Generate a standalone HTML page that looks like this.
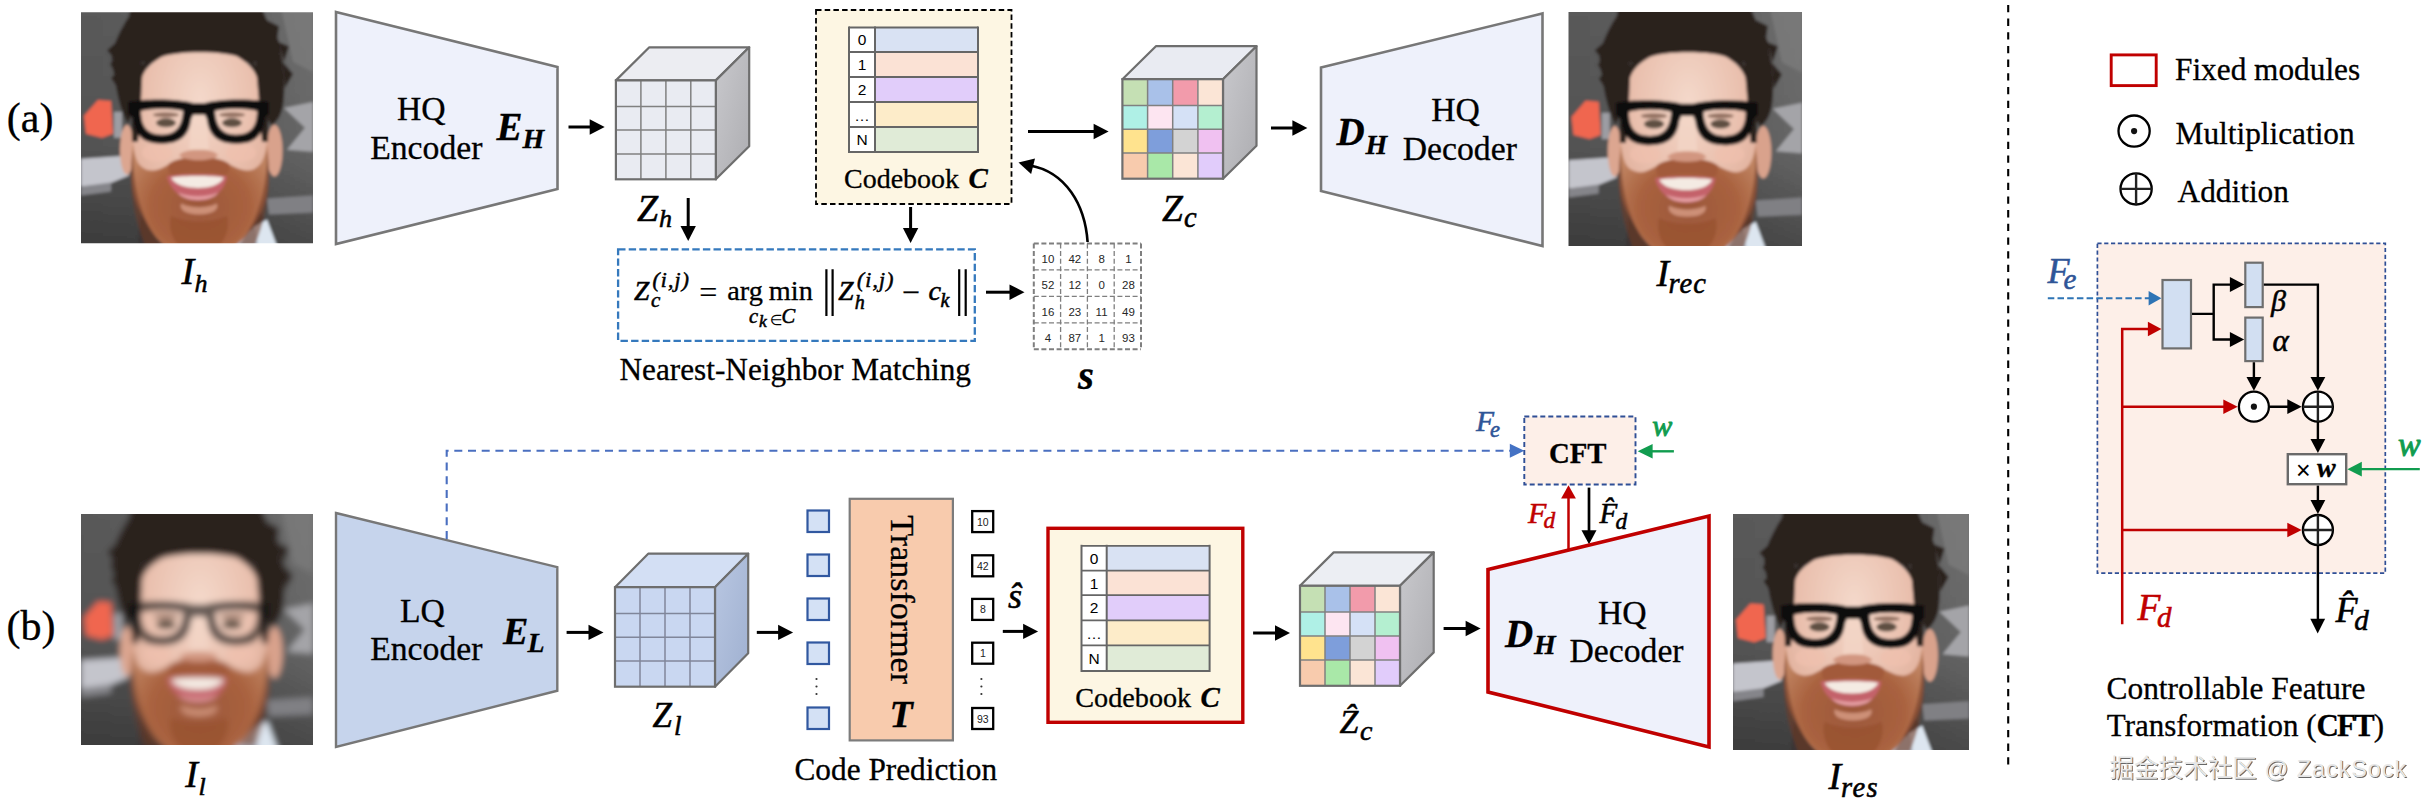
<!DOCTYPE html>
<html lang="en"><head><meta charset="utf-8"><title>CodeFormer framework</title>
<style>
html,body{margin:0;padding:0;background:#fff;}
body{width:2430px;height:804px;overflow:hidden;}
svg{display:block;}
</style></head><body>
<svg width="2430" height="804" viewBox="0 0 2430 804">
<defs>
<linearGradient id="sideG" x1="0" y1="0" x2="1" y2="1"><stop offset="0" stop-color="#c9c9cd"/><stop offset="1" stop-color="#adadb1"/></linearGradient>
<linearGradient id="sideB" x1="0" y1="0" x2="1" y2="1"><stop offset="0" stop-color="#b9c7e2"/><stop offset="1" stop-color="#9fb0d0"/></linearGradient>
<filter id="bl2" x="-10%" y="-10%" width="120%" height="120%"><feGaussianBlur stdDeviation="1.6"/></filter>
<filter id="bl4" x="-10%" y="-10%" width="120%" height="120%"><feGaussianBlur stdDeviation="4"/></filter>
<filter id="bl6" x="-10%" y="-10%" width="120%" height="120%"><feGaussianBlur stdDeviation="3.2"/></filter>
<clipPath id="fc"><rect x="0" y="0" width="232" height="232"/></clipPath>
<linearGradient id="bgG" x1="0" y1="0" x2="1" y2="0"><stop offset="0" stop-color="#595959"/><stop offset="0.6" stop-color="#5f5f5f"/><stop offset="1" stop-color="#727272"/></linearGradient>
<linearGradient id="bgD" x1="0" y1="0" x2="0" y2="1"><stop offset="0" stop-color="#000" stop-opacity="0"/><stop offset="0.55" stop-color="#000" stop-opacity="0.08"/><stop offset="1" stop-color="#000" stop-opacity="0.38"/></linearGradient>
<radialGradient id="skinG" cx="0.5" cy="0.25" r="0.8"><stop offset="0" stop-color="#f4d8ca"/><stop offset="0.5" stop-color="#e9bfad"/><stop offset="1" stop-color="#d9a28d"/></radialGradient>
<radialGradient id="beardG" cx="0.5" cy="0.55" r="0.6"><stop offset="0" stop-color="#9c573a"/><stop offset="0.6" stop-color="#a9623f"/><stop offset="1" stop-color="#c08462"/></radialGradient>
<g id="faceBase">
<rect x="-10" y="-10" width="260" height="260" fill="url(#bgG)"/>
<rect x="-10" y="-10" width="260" height="260" fill="url(#bgD)"/>
<!-- bg graphics -->
<path d="M3 104 L17 88 L30 89 L32 122 L21 126 L5 122 Z" fill="#f06650"/>
<rect x="33" y="100" width="8" height="26" fill="#9d9da3"/>
<path d="M0 147 L44 144 L48 164 L26 173 L0 175 Z" fill="#c4c5cc"/>
<path d="M0 175 L30 171 L30 180 L0 184 Z" fill="#85858a"/>
<path d="M203 96 L232 90 L232 140 L206 138 L224 116 Z" fill="#a4a4a8"/>
<path d="M200 -4 L232 -4 L232 60 L212 50 Z" fill="#7d7d7d" opacity="0.7"/>
<path d="M186 187 L232 184 L232 201 L188 203 Z" fill="#808084"/>
<!-- neck and shirt -->
<path d="M60 200 L178 196 L196 240 L56 240 Z" fill="#3a3434"/>
<path d="M172 216 L186 208 L198 240 L172 240 Z" fill="#dde6f0"/>
<path d="M154 228 L174 216 L178 240 L152 240 Z" fill="#b9c3d0"/>
<!-- ears -->
<ellipse cx="46" cy="138" rx="7" ry="25" fill="#dca690"/>
<ellipse cx="193.5" cy="139" rx="8" ry="26" fill="#d9a28c"/>
<!-- hair mass -->
<path d="M47 112 C40 100 36 84 33 62 C30 48 30 40 33 34 C38 20 44 10 48 4 L50 -6 L180 -6 L186 8 C196 22 200 32 200 40 C204 60 204 80 202 94 C200 104 196 110 190 114 L180 90 L176 50 L60 50 L56 90 Z" fill="#2b221e"/>
<path d="M26 38 L40 26 L36 50 Z M29 52 L36 44 L36 64 Z M30 66 L36 60 L38 78 Z M198 30 L208 34 L203 50 Z M202 50 L212 62 L204 76 Z M186 8 L198 14 L196 28 Z" fill="#2b221e"/>
<!-- face -->
<path d="M52 108 C50 72 62 40 118 34 C174 38 186 72 186 108 C187 140 188 160 184 184 C176 214 152 246 118 246 C86 246 62 214 54 184 C50 160 51 140 52 108 Z" fill="url(#skinG)"/>
<!-- hairline -->
<path d="M54 92 C54 60 62 36 100 28 L140 28 C170 34 180 52 182 92 C180 70 174 56 162 46 C142 38 96 38 76 46 C62 56 58 70 54 92 Z" fill="#2b221e"/>
<path d="M51 130 L50 70 L62 48 L60 90 L57 130 Z M187 130 L188 70 L174 44 L178 90 L181 130 Z" fill="#2b221e"/>
<!-- beard -->
<path d="M52 130 C54 150 58 157 70 159 C78 159 84 155 90 151 C100 144 136 144 146 151 C152 155 160 159 168 159 C178 157 184 150 186 130 C190 168 186 190 178 204 C166 228 146 248 118 248 C92 248 72 228 62 204 C52 190 48 168 52 130 Z" fill="url(#beardG)"/>
<path d="M88 152 C100 143 136 143 148 152 C150 159 146 164 142 164 C130 159 106 159 94 164 C88 164 86 159 88 152 Z" fill="#a25a3a"/>
<path d="M52 138 C52 178 60 206 80 234 L64 234 C54 208 46 178 52 138 Z M186 138 C186 178 178 206 158 234 L174 234 C184 208 192 178 186 138 Z" fill="#6f3c28" opacity="0.6"/>
<path d="M100 192 C110 197 126 197 136 192 C138 198 132 203 118 203 C104 203 98 198 100 192 Z" fill="#d59a82" opacity="0.85"/>
<path d="M90 204 C104 212 132 212 146 204 C150 220 142 240 118 244 C94 240 86 220 90 204 Z" fill="#96502f" opacity="0.7"/>
<!-- mouth -->
<path d="M86 165 C102 162 132 162 146 165 C143 180 132 189 117 189 C102 189 90 180 86 165 Z" fill="#c4626a"/>
<path d="M90 166 C104 164 130 164 143 166 C139 174 128 176.5 117 176.5 C106 176.5 94 174 90 166 Z" fill="#f4ebe3"/>
<path d="M97 181 C107 186 127 186 137 181 C132 191 102 191 97 181 Z" fill="#e59ea2"/>
<!-- nose -->
<path d="M98 144 C106 150 130 150 137 144 C134 136 102 136 98 144 Z" fill="#d29680"/>
<path d="M111 100 L125 100 L128 138 L108 138 Z" fill="#f3d5c7" opacity="0.75"/>
<!-- cheeks -->
<ellipse cx="76" cy="141" rx="15" ry="9" fill="#efc0ae" opacity="0.7"/>
<ellipse cx="160" cy="141" rx="15" ry="9" fill="#efc0ae" opacity="0.7"/>
<!-- eyes -->
<ellipse cx="85" cy="111" rx="10" ry="4.5" fill="#5f5043"/>
<ellipse cx="151" cy="111" rx="10" ry="4.5" fill="#5f5043"/>
<ellipse cx="85" cy="103" rx="13" ry="2.5" fill="#6b4a3a" opacity="0.7"/>
<ellipse cx="151" cy="103" rx="13" ry="2.5" fill="#6b4a3a" opacity="0.7"/>
</g>
<g id="glasses"><path d="M47 90 C66 86 100 87 112 91 L124 91 C136 87 168 86 188 90 L188 102 L184 106 C182 124 174 132 155 132 C137 132 128 124 126 108 L124 103 L112 103 L110 108 C108 124 99 132 81 132 C62 132 54 124 52 106 L47 102 Z M60 99 C60 115 66 123 81 123 C95 123 101 115 102 99 C90 96 72 96 60 99 Z M134 99 C135 115 141 123 155 123 C170 123 176 115 176 99 C164 96 146 96 134 99 Z" fill="#0c0b0b" fill-rule="evenodd"/></g>
<g id="face"><g transform="scale(1,0.9957)"><g clip-path="url(#fc)"><g filter="url(#bl2)"><use href="#faceBase"/><use href="#glasses"/></g></g></g></g>
<g id="face2"><g transform="scale(1.0065,1.0086)"><g clip-path="url(#fc)"><g filter="url(#bl2)"><use href="#faceBase"/><use href="#glasses"/></g></g></g></g>
<g id="face3"><g transform="scale(1,0.9957)"><g clip-path="url(#fc)"><g filter="url(#bl6)"><use href="#faceBase"/><use href="#glasses" opacity="0.6"/></g></g></g></g>
<g id="face4"><g transform="scale(1.0172,1.0172)"><g clip-path="url(#fc)"><g filter="url(#bl2)"><use href="#faceBase"/><use href="#glasses"/></g></g></g></g>

</defs>
<rect width="2430" height="804" fill="#fff"/>

<text x="6.8" y="132.3" font-size="42" font-family='"Liberation Serif", serif' fill="#000" stroke="#000" stroke-width="0.3">(a)</text>
<use href="#face" x="81" y="12.3"/>
<text x="181.5" y="283.8" font-size="38" font-family='"Liberation Serif", serif' font-style="italic" fill="#000" stroke="#000" stroke-width="0.55">I</text>
<text x="194.5" y="292" font-size="26" font-family='"Liberation Serif", serif' font-style="italic" fill="#000" stroke="#000" stroke-width="0.55">h</text>
<polygon points="336,12 557.5,67 557.5,189 336,244" fill="#eef1fb" stroke="#777" stroke-width="2.6" stroke-linejoin="miter"/>
<text x="397" y="120.3" font-size="33.7" font-family='"Liberation Serif", serif' fill="#000" stroke="#000" stroke-width="0.3">HQ</text>
<text x="370.2" y="158.5" font-size="33.7" font-family='"Liberation Serif", serif' fill="#000" stroke="#000" stroke-width="0.3">Encoder</text>
<text x="496.5" y="139.8" font-size="39" font-family='"Liberation Serif", serif' font-style="italic" font-weight="bold" fill="#000" stroke="#000" stroke-width="0.3">E</text>
<text x="522.5" y="147.7" font-size="28" font-family='"Liberation Serif", serif' font-style="italic" font-weight="bold" fill="#000" stroke="#000" stroke-width="0.3">H</text>
<line x1="568.5" y1="127.0" x2="591.7" y2="127.0" stroke="#000" stroke-width="3"/><polygon points="604.7,127.0 589.7,134.7 589.7,119.3" fill="#000"/>
<polygon points="615.9,80.4 649.3,47.300000000000004 749.1999999999999,47.300000000000004 715.8,80.4" fill="#ecedf2" stroke="#6e6e6e" stroke-width="2.2" stroke-linejoin="round"/><polygon points="715.8,80.4 749.1999999999999,47.300000000000004 749.1999999999999,146.20000000000002 715.8,179.3" fill="url(#sideG)" stroke="#6e6e6e" stroke-width="2.2" stroke-linejoin="round"/><rect x="615.9" y="80.4" width="99.9" height="98.9" fill="#e9ebf2"/><line x1="640.9" y1="80.4" x2="640.9" y2="179.3" stroke="#808080" stroke-width="1.5"/><line x1="615.9" y1="106.4" x2="715.8" y2="106.4" stroke="#808080" stroke-width="1.5"/><line x1="665.9" y1="80.4" x2="665.9" y2="179.3" stroke="#808080" stroke-width="1.5"/><line x1="615.9" y1="130.1" x2="715.8" y2="130.1" stroke="#808080" stroke-width="1.5"/><line x1="690.8" y1="80.4" x2="690.8" y2="179.3" stroke="#808080" stroke-width="1.5"/><line x1="615.9" y1="153.9" x2="715.8" y2="153.9" stroke="#808080" stroke-width="1.5"/><rect x="615.9" y="80.4" width="99.9" height="98.9" fill="none" stroke="#6e6e6e" stroke-width="2.2"/>
<text x="637" y="220.8" font-size="38" font-family='"Liberation Serif", serif' font-style="italic" fill="#000" stroke="#000" stroke-width="0.55">Z</text>
<text x="659" y="226.6" font-size="26" font-family='"Liberation Serif", serif' font-style="italic" fill="#000" stroke="#000" stroke-width="0.55">h</text>
<line x1="688.2" y1="198.0" x2="688.2" y2="228.0" stroke="#000" stroke-width="3"/><polygon points="688.2,241.0 680.5,226.0 695.9,226.0" fill="#000"/>
<rect x="816" y="10" width="195.5" height="194" fill="#fdf6e3" stroke="#000" stroke-width="1.8" stroke-dasharray="5.5 3.2"/>
<rect x="875" y="27.5" width="103" height="24.5" fill="#d9e2f3"/><rect x="849" y="27.5" width="26" height="24.5" fill="#fff"/><rect x="875" y="52" width="103" height="25" fill="#fbe2d5"/><rect x="849" y="52" width="26" height="25" fill="#fff"/><rect x="875" y="77" width="103" height="25" fill="#e1cdfa"/><rect x="849" y="77" width="26" height="25" fill="#fff"/><rect x="875" y="102" width="103" height="25" fill="#fdecc9"/><rect x="849" y="102" width="26" height="25" fill="#fff"/><rect x="875" y="127" width="103" height="25" fill="#e0ebd7"/><rect x="849" y="127" width="26" height="25" fill="#fff"/><line x1="849" y1="27.5" x2="978" y2="27.5" stroke="#666" stroke-width="1.8"/><line x1="849" y1="52" x2="978" y2="52" stroke="#666" stroke-width="1.8"/><line x1="849" y1="77" x2="978" y2="77" stroke="#666" stroke-width="1.8"/><line x1="849" y1="102" x2="978" y2="102" stroke="#666" stroke-width="1.8"/><line x1="849" y1="127" x2="978" y2="127" stroke="#666" stroke-width="1.8"/><line x1="849" y1="152" x2="978" y2="152" stroke="#666" stroke-width="1.8"/><line x1="849" y1="26.5" x2="849" y2="153" stroke="#666" stroke-width="2"/><line x1="875" y1="26.5" x2="875" y2="153" stroke="#666" stroke-width="2"/><line x1="978" y1="26.5" x2="978" y2="153" stroke="#666" stroke-width="2"/><text x="862.0" y="45.4" font-size="15.5" font-family='"Liberation Sans", sans-serif' text-anchor="middle" fill="#000">0</text><text x="862.0" y="70.1" font-size="15.5" font-family='"Liberation Sans", sans-serif' text-anchor="middle" fill="#000">1</text><text x="862.0" y="95.1" font-size="15.5" font-family='"Liberation Sans", sans-serif' text-anchor="middle" fill="#000">2</text><text x="862.0" y="120.5" font-size="15.5" font-family='"Liberation Sans", sans-serif' text-anchor="middle" fill="#000">…</text><text x="862.0" y="145.1" font-size="15.5" font-family='"Liberation Sans", sans-serif' text-anchor="middle" fill="#000">N</text>
<text x="844" y="187.5" font-size="28" font-family='"Liberation Serif", serif' fill="#000" stroke="#000" stroke-width="0.3">Codebook</text>
<text x="968.5" y="187.5" font-size="29" font-family='"Liberation Serif", serif' font-style="italic" font-weight="bold" fill="#000" stroke="#000" stroke-width="0.3">C</text>
<line x1="910.6" y1="207.0" x2="910.6" y2="230.0" stroke="#000" stroke-width="3"/><polygon points="910.6,243.0 902.9,228.0 918.3,228.0" fill="#000"/>
<rect x="618.1" y="249.4" width="356.7" height="91.4" fill="#fff" stroke="#3579bd" stroke-width="2.3" stroke-dasharray="7.4 3.2"/>
<text x="634" y="300.3" font-size="27.5" font-family='"Liberation Serif", serif' font-style="italic" fill="#000" stroke="#000" stroke-width="0.55">Z</text><text x="651" y="306.8" font-size="21" font-family='"Liberation Serif", serif' font-style="italic" fill="#000" stroke="#000" stroke-width="0.55">c</text><text x="652.5" y="287.3" font-size="21.5" font-family='"Liberation Serif", serif' font-style="italic" fill="#000" letter-spacing="1.2" stroke="#000" stroke-width="0.55">(i,j)</text><text x="699.3" y="302.5" font-size="32" font-family='"Liberation Serif", serif' fill="#000" stroke="#000" stroke-width="0.2">=</text><text x="727.3" y="300.3" font-size="28.3" font-family='"Liberation Serif", serif' fill="#000" stroke="#000" stroke-width="0.3">arg</text><text x="768.8" y="300.3" font-size="28.3" font-family='"Liberation Serif", serif' fill="#000" stroke="#000" stroke-width="0.3">min</text><text x="749" y="323.4" font-size="20.5" font-family='"Liberation Serif", serif' font-style="italic" fill="#000" stroke="#000" stroke-width="0.55">c</text><text x="759" y="327.1" font-size="17.5" font-family='"Liberation Serif", serif' font-style="italic" fill="#000" stroke="#000" stroke-width="0.55">k</text><text x="770" y="324.5" font-size="14.5" font-family='"DejaVu Sans", sans-serif' fill="#000">∈</text><text x="781.5" y="323.4" font-size="20.5" font-family='"Liberation Serif", serif' font-style="italic" fill="#000" stroke="#000" stroke-width="0.55">C</text><path d="M826.4 269.3V315.9M832.6 269.3V315.9M959.2 269.3V315.9M965.7 269.3V315.9" stroke="#000" stroke-width="2.2" fill="none"/><text x="838.3" y="300.3" font-size="27.5" font-family='"Liberation Serif", serif' font-style="italic" fill="#000" stroke="#000" stroke-width="0.55">Z</text><text x="854.7" y="309.1" font-size="20" font-family='"Liberation Serif", serif' font-style="italic" fill="#000" stroke="#000" stroke-width="0.55">h</text><text x="857" y="287.3" font-size="21.5" font-family='"Liberation Serif", serif' font-style="italic" fill="#000" letter-spacing="1.2" stroke="#000" stroke-width="0.55">(i,j)</text><text x="901.8" y="302.7" font-size="32" font-family='"Liberation Serif", serif' fill="#000" stroke="#000" stroke-width="0.2">−</text><text x="928.5" y="300.3" font-size="28.3" font-family='"Liberation Serif", serif' font-style="italic" fill="#000" stroke="#000" stroke-width="0.55">c</text><text x="940.5" y="306.6" font-size="20" font-family='"Liberation Serif", serif' font-style="italic" fill="#000" stroke="#000" stroke-width="0.55">k</text>
<text x="619.5" y="379.7" font-size="31.25" font-family='"Liberation Serif", serif' fill="#000" stroke="#000" stroke-width="0.3">Nearest-Neighbor Matching</text>
<line x1="986.0" y1="292.2" x2="1011.5" y2="292.2" stroke="#000" stroke-width="3"/><polygon points="1024.5,292.2 1009.5,299.9 1009.5,284.5" fill="#000"/>
<line x1="1033.8" y1="243.5" x2="1033.8" y2="349.2" stroke="#7f7f7f" stroke-width="2.0" stroke-dasharray="5 2.6"/><line x1="1033.8" y1="243.5" x2="1141.0" y2="243.5" stroke="#7f7f7f" stroke-width="2.0" stroke-dasharray="5 2.6"/><line x1="1060.6" y1="243.5" x2="1060.6" y2="349.2" stroke="#7f7f7f" stroke-width="1.3" stroke-dasharray="5 2.6"/><line x1="1033.8" y1="269.9" x2="1141.0" y2="269.9" stroke="#7f7f7f" stroke-width="1.3" stroke-dasharray="5 2.6"/><line x1="1087.4" y1="243.5" x2="1087.4" y2="349.2" stroke="#7f7f7f" stroke-width="1.3" stroke-dasharray="5 2.6"/><line x1="1033.8" y1="296.4" x2="1141.0" y2="296.4" stroke="#7f7f7f" stroke-width="1.3" stroke-dasharray="5 2.6"/><line x1="1114.2" y1="243.5" x2="1114.2" y2="349.2" stroke="#7f7f7f" stroke-width="1.3" stroke-dasharray="5 2.6"/><line x1="1033.8" y1="322.8" x2="1141.0" y2="322.8" stroke="#7f7f7f" stroke-width="1.3" stroke-dasharray="5 2.6"/><line x1="1141.0" y1="243.5" x2="1141.0" y2="349.2" stroke="#7f7f7f" stroke-width="2.0" stroke-dasharray="5 2.6"/><line x1="1033.8" y1="349.2" x2="1141.0" y2="349.2" stroke="#7f7f7f" stroke-width="2.0" stroke-dasharray="5 2.6"/><text x="1048.0" y="262.9" font-size="11.5" font-family='"Liberation Sans", sans-serif' text-anchor="middle" fill="#262626">10</text><text x="1074.8" y="262.9" font-size="11.5" font-family='"Liberation Sans", sans-serif' text-anchor="middle" fill="#262626">42</text><text x="1101.6" y="262.9" font-size="11.5" font-family='"Liberation Sans", sans-serif' text-anchor="middle" fill="#262626">8</text><text x="1128.4" y="262.9" font-size="11.5" font-family='"Liberation Sans", sans-serif' text-anchor="middle" fill="#262626">1</text><text x="1048.0" y="289.3" font-size="11.5" font-family='"Liberation Sans", sans-serif' text-anchor="middle" fill="#262626">52</text><text x="1074.8" y="289.3" font-size="11.5" font-family='"Liberation Sans", sans-serif' text-anchor="middle" fill="#262626">12</text><text x="1101.6" y="289.3" font-size="11.5" font-family='"Liberation Sans", sans-serif' text-anchor="middle" fill="#262626">0</text><text x="1128.4" y="289.3" font-size="11.5" font-family='"Liberation Sans", sans-serif' text-anchor="middle" fill="#262626">28</text><text x="1048.0" y="315.8" font-size="11.5" font-family='"Liberation Sans", sans-serif' text-anchor="middle" fill="#262626">16</text><text x="1074.8" y="315.8" font-size="11.5" font-family='"Liberation Sans", sans-serif' text-anchor="middle" fill="#262626">23</text><text x="1101.6" y="315.8" font-size="11.5" font-family='"Liberation Sans", sans-serif' text-anchor="middle" fill="#262626">11</text><text x="1128.4" y="315.8" font-size="11.5" font-family='"Liberation Sans", sans-serif' text-anchor="middle" fill="#262626">49</text><text x="1048.0" y="342.2" font-size="11.5" font-family='"Liberation Sans", sans-serif' text-anchor="middle" fill="#262626">4</text><text x="1074.8" y="342.2" font-size="11.5" font-family='"Liberation Sans", sans-serif' text-anchor="middle" fill="#262626">87</text><text x="1101.6" y="342.2" font-size="11.5" font-family='"Liberation Sans", sans-serif' text-anchor="middle" fill="#262626">1</text><text x="1128.4" y="342.2" font-size="11.5" font-family='"Liberation Sans", sans-serif' text-anchor="middle" fill="#262626">93</text>
<text x="1078" y="389.4" font-size="41" font-family='"Liberation Serif", serif' font-style="italic" font-weight="bold" fill="#000" stroke="#000" stroke-width="0.3">s</text>
<path d="M1087.6 242 C1085 205 1066 172 1030 165.5" fill="none" stroke="#000" stroke-width="2.6"/>
<polygon points="1018.5,162.6 1035.0,158.4 1031.1,174.0" fill="#000"/>
<line x1="1028.0" y1="131.5" x2="1095.6" y2="131.5" stroke="#000" stroke-width="3"/><polygon points="1108.6,131.5 1093.6,139.2 1093.6,123.8" fill="#000"/>
<polygon points="1122.4,79.2 1155.9,46.2 1256.5,46.2 1223.0,79.2" fill="#e9ebf2" stroke="#6e6e6e" stroke-width="2.2" stroke-linejoin="round"/><polygon points="1223.0,79.2 1256.5,46.2 1256.5,145.7 1223.0,178.7" fill="url(#sideG)" stroke="#6e6e6e" stroke-width="2.2" stroke-linejoin="round"/><rect x="1122.4" y="79.2" width="25.1" height="26.2" fill="#c5e0b4"/><rect x="1147.6" y="79.2" width="25.1" height="26.2" fill="#a9c1e9"/><rect x="1172.7" y="79.2" width="25.1" height="26.2" fill="#f29bab"/><rect x="1197.9" y="79.2" width="25.1" height="26.2" fill="#fbe5d6"/><rect x="1122.4" y="105.4" width="25.1" height="23.9" fill="#aff0e6"/><rect x="1147.6" y="105.4" width="25.1" height="23.9" fill="#fde5f1"/><rect x="1172.7" y="105.4" width="25.1" height="23.9" fill="#d5e1f6"/><rect x="1197.9" y="105.4" width="25.1" height="23.9" fill="#b4efd0"/><rect x="1122.4" y="129.2" width="25.1" height="23.9" fill="#ffe38e"/><rect x="1147.6" y="129.2" width="25.1" height="23.9" fill="#7e9edb"/><rect x="1172.7" y="129.2" width="25.1" height="23.9" fill="#d3d3d3"/><rect x="1197.9" y="129.2" width="25.1" height="23.9" fill="#f0c1f1"/><rect x="1122.4" y="153.1" width="25.1" height="25.6" fill="#f8cbad"/><rect x="1147.6" y="153.1" width="25.1" height="25.6" fill="#a9e8a8"/><rect x="1172.7" y="153.1" width="25.1" height="25.6" fill="#fbe5d6"/><rect x="1197.9" y="153.1" width="25.1" height="25.6" fill="#e1ccfb"/><line x1="1147.6" y1="79.2" x2="1147.6" y2="178.7" stroke="#808080" stroke-width="1.5"/><line x1="1122.4" y1="105.4" x2="1223.0" y2="105.4" stroke="#808080" stroke-width="1.5"/><line x1="1172.7" y1="79.2" x2="1172.7" y2="178.7" stroke="#808080" stroke-width="1.5"/><line x1="1122.4" y1="129.2" x2="1223.0" y2="129.2" stroke="#808080" stroke-width="1.5"/><line x1="1197.9" y1="79.2" x2="1197.9" y2="178.7" stroke="#808080" stroke-width="1.5"/><line x1="1122.4" y1="153.1" x2="1223.0" y2="153.1" stroke="#808080" stroke-width="1.5"/><rect x="1122.4" y="79.2" width="100.6" height="99.5" fill="none" stroke="#6e6e6e" stroke-width="2.2"/>
<text x="1162" y="220.5" font-size="37.5" font-family='"Liberation Serif", serif' font-style="italic" fill="#000" stroke="#000" stroke-width="0.55">Z</text>
<text x="1184" y="226.6" font-size="28.5" font-family='"Liberation Serif", serif' font-style="italic" fill="#000" stroke="#000" stroke-width="0.55">c</text>
<line x1="1271.0" y1="128.0" x2="1294.4" y2="128.0" stroke="#000" stroke-width="3"/><polygon points="1307.4,128.0 1292.4,135.7 1292.4,120.3" fill="#000"/>
<polygon points="1321,67.5 1542.5,13.5 1542.5,246 1321,191" fill="#eef1fb" stroke="#777" stroke-width="2.6"/>
<text x="1336.5" y="145.3" font-size="39" font-family='"Liberation Serif", serif' font-style="italic" font-weight="bold" fill="#000" stroke="#000" stroke-width="0.3">D</text>
<text x="1365.5" y="153.6" font-size="28" font-family='"Liberation Serif", serif' font-style="italic" font-weight="bold" fill="#000" stroke="#000" stroke-width="0.3">H</text>
<text x="1431.3" y="120.8" font-size="33.7" font-family='"Liberation Serif", serif' fill="#000" stroke="#000" stroke-width="0.3">HQ</text>
<text x="1402.8" y="159.6" font-size="33.7" font-family='"Liberation Serif", serif' fill="#000" stroke="#000" stroke-width="0.3">Decoder</text>
<use href="#face2" x="1568.5" y="12"/>
<text x="1656.5" y="285.7" font-size="38" font-family='"Liberation Serif", serif' font-style="italic" fill="#000" stroke="#000" stroke-width="0.55">I</text>
<text x="1668.5" y="292.7" font-size="28.5" font-family='"Liberation Serif", serif' font-style="italic" fill="#000" letter-spacing="1" stroke="#000" stroke-width="0.55">rec</text>
<line x1="2008.2" y1="4.9" x2="2008.2" y2="764.7" stroke="#000" stroke-width="2.1" stroke-dasharray="7.3 6.38"/>
<text x="6.5" y="640.2" font-size="42" font-family='"Liberation Serif", serif' fill="#000" stroke="#000" stroke-width="0.3">(b)</text>
<use href="#face3" x="81" y="514"/>
<text x="185.3" y="786.6" font-size="38" font-family='"Liberation Serif", serif' font-style="italic" fill="#000" stroke="#000" stroke-width="0.55">I</text>
<text x="198.5" y="794.9" font-size="26" font-family='"Liberation Serif", serif' font-style="italic" fill="#000" stroke="#000" stroke-width="0.55">l</text>
<polygon points="336,513 557.3,567.2 557.3,690.7 336,747" fill="#c6d4ec" stroke="#777" stroke-width="2.4"/>
<text x="400" y="622" font-size="33.7" font-family='"Liberation Serif", serif' fill="#000" stroke="#000" stroke-width="0.3">LQ</text>
<text x="370.2" y="659.5" font-size="33.7" font-family='"Liberation Serif", serif' fill="#000" stroke="#000" stroke-width="0.3">Encoder</text>
<text x="503" y="643.5" font-size="38" font-family='"Liberation Serif", serif' font-style="italic" font-weight="bold" fill="#000" stroke="#000" stroke-width="0.3">E</text>
<text x="527.5" y="652.4" font-size="28" font-family='"Liberation Serif", serif' font-style="italic" font-weight="bold" fill="#000" stroke="#000" stroke-width="0.3">L</text>
<line x1="566.6" y1="632.4" x2="590.5" y2="632.4" stroke="#000" stroke-width="3"/><polygon points="603.5,632.4 588.5,640.1 588.5,624.7" fill="#000"/>
<polygon points="615,587.2 648.2,553.7 748.2,553.7 715,587.2" fill="#d3dff4" stroke="#6e6e6e" stroke-width="2.2" stroke-linejoin="round"/><polygon points="715,587.2 748.2,553.7 748.2,653.2 715,686.7" fill="url(#sideB)" stroke="#6e6e6e" stroke-width="2.2" stroke-linejoin="round"/><rect x="615" y="587.2" width="100" height="99.5" fill="#c9d7f1"/><line x1="640.0" y1="587.2" x2="640.0" y2="686.7" stroke="#80869a" stroke-width="1.5"/><line x1="615" y1="613.4" x2="715" y2="613.4" stroke="#80869a" stroke-width="1.5"/><line x1="665.0" y1="587.2" x2="665.0" y2="686.7" stroke="#80869a" stroke-width="1.5"/><line x1="615" y1="637.2" x2="715" y2="637.2" stroke="#80869a" stroke-width="1.5"/><line x1="690.0" y1="587.2" x2="690.0" y2="686.7" stroke="#80869a" stroke-width="1.5"/><line x1="615" y1="661.1" x2="715" y2="661.1" stroke="#80869a" stroke-width="1.5"/><rect x="615" y="587.2" width="100" height="99.5" fill="none" stroke="#6e6e6e" stroke-width="2.2"/>
<text x="652.5" y="727.3" font-size="35" font-family='"Liberation Serif", serif' font-style="italic" fill="#000" stroke="#000" stroke-width="0.55">Z</text>
<text x="674" y="734.5" font-size="27" font-family='"Liberation Serif", serif' font-style="italic" fill="#000" stroke="#000" stroke-width="0.55">l</text>
<line x1="756.8" y1="632.4" x2="780.1" y2="632.4" stroke="#000" stroke-width="3"/><polygon points="793.1,632.4 778.1,640.1 778.1,624.7" fill="#000"/>
<path d="M446.7 539V450.7H1510" fill="none" stroke="#4a6fc0" stroke-width="2.1" stroke-dasharray="8 5.7"/>
<polygon points="1524.3,450.7 1509.8,457.7 1509.8,443.7" fill="#4472c4"/>
<rect x="807.5" y="510.5" width="21.5" height="21.5" fill="#d4e1f5" stroke="#3158a0" stroke-width="2.2"/>
<rect x="807.5" y="554.5" width="21.5" height="21.5" fill="#d4e1f5" stroke="#3158a0" stroke-width="2.2"/>
<rect x="807.5" y="598.5" width="21.5" height="21.5" fill="#d4e1f5" stroke="#3158a0" stroke-width="2.2"/>
<rect x="807.5" y="642.5" width="21.5" height="21.5" fill="#d4e1f5" stroke="#3158a0" stroke-width="2.2"/>
<rect x="807.5" y="707.5" width="21.5" height="21.5" fill="#d4e1f5" stroke="#3158a0" stroke-width="2.2"/>
<path d="M816.5 679v0.01M816.5 686.5v0.01M816.5 694v0.01" stroke="#333" stroke-width="2.2" stroke-linecap="round"/>
<path d="M981.4 679v0.01M981.4 686.5v0.01M981.4 694v0.01" stroke="#333" stroke-width="2.2" stroke-linecap="round"/>
<rect x="849.7" y="498.8" width="103.2" height="241.6" fill="#f8cbad" stroke="#7c7c7c" stroke-width="2.2"/>
<text transform="translate(891.3,515.3) rotate(90)" font-size="34" font-family='"Liberation Serif", serif' fill="#000" stroke="#000" stroke-width="0.3">Transformer</text>
<text x="889.5" y="726.9" font-size="38" font-family='"Liberation Serif", serif' font-style="italic" font-weight="bold" fill="#000" stroke="#000" stroke-width="0.3">T</text>
<rect x="972.2" y="511.1" width="21" height="21" fill="#fff" stroke="#000" stroke-width="2.3"/>
<text x="982.8" y="525.6" font-size="10.5" font-family='"Liberation Sans", sans-serif' text-anchor="middle" fill="#222">10</text>
<rect x="972.2" y="555.3000000000001" width="21" height="21" fill="#fff" stroke="#000" stroke-width="2.3"/>
<text x="982.8" y="569.8000000000001" font-size="10.5" font-family='"Liberation Sans", sans-serif' text-anchor="middle" fill="#222">42</text>
<rect x="972.2" y="598.9" width="21" height="21" fill="#fff" stroke="#000" stroke-width="2.3"/>
<text x="982.8" y="613.4" font-size="10.5" font-family='"Liberation Sans", sans-serif' text-anchor="middle" fill="#222">8</text>
<rect x="972.2" y="642.7" width="21" height="21" fill="#fff" stroke="#000" stroke-width="2.3"/>
<text x="982.8" y="657.2" font-size="10.5" font-family='"Liberation Sans", sans-serif' text-anchor="middle" fill="#222">1</text>
<rect x="972.2" y="708.0" width="21" height="21" fill="#fff" stroke="#000" stroke-width="2.3"/>
<text x="982.8" y="722.5" font-size="10.5" font-family='"Liberation Sans", sans-serif' text-anchor="middle" fill="#222">93</text>
<text x="1008" y="608.1" font-size="36" font-family='"Liberation Serif", serif' font-style="italic" fill="#000" stroke="#000" stroke-width="0.55">ŝ</text>
<line x1="1002.8" y1="631.4" x2="1025.1" y2="631.4" stroke="#000" stroke-width="3"/><polygon points="1038.1,631.4 1023.1,639.1 1023.1,623.7" fill="#000"/>
<rect x="1048" y="528.3" width="194.8" height="194" fill="#fdf6e3" stroke="#c00000" stroke-width="3.4"/>
<rect x="1106.7" y="545.8" width="102.89999999999986" height="24.800000000000068" fill="#d9e2f3"/><rect x="1081.5" y="545.8" width="25.200000000000045" height="24.800000000000068" fill="#fff"/><rect x="1106.7" y="570.6" width="102.89999999999986" height="24.600000000000023" fill="#fbe2d5"/><rect x="1081.5" y="570.6" width="25.200000000000045" height="24.600000000000023" fill="#fff"/><rect x="1106.7" y="595.2" width="102.89999999999986" height="25.199999999999932" fill="#e1cdfa"/><rect x="1081.5" y="595.2" width="25.200000000000045" height="25.199999999999932" fill="#fff"/><rect x="1106.7" y="620.4" width="102.89999999999986" height="24.899999999999977" fill="#fdecc9"/><rect x="1081.5" y="620.4" width="25.200000000000045" height="24.899999999999977" fill="#fff"/><rect x="1106.7" y="645.3" width="102.89999999999986" height="25.700000000000045" fill="#e0ebd7"/><rect x="1081.5" y="645.3" width="25.200000000000045" height="25.700000000000045" fill="#fff"/><line x1="1081.5" y1="545.8" x2="1209.6" y2="545.8" stroke="#666" stroke-width="1.8"/><line x1="1081.5" y1="570.6" x2="1209.6" y2="570.6" stroke="#666" stroke-width="1.8"/><line x1="1081.5" y1="595.2" x2="1209.6" y2="595.2" stroke="#666" stroke-width="1.8"/><line x1="1081.5" y1="620.4" x2="1209.6" y2="620.4" stroke="#666" stroke-width="1.8"/><line x1="1081.5" y1="645.3" x2="1209.6" y2="645.3" stroke="#666" stroke-width="1.8"/><line x1="1081.5" y1="671" x2="1209.6" y2="671" stroke="#666" stroke-width="1.8"/><line x1="1081.5" y1="544.8" x2="1081.5" y2="672" stroke="#666" stroke-width="2"/><line x1="1106.7" y1="544.8" x2="1106.7" y2="672" stroke="#666" stroke-width="2"/><line x1="1209.6" y1="544.8" x2="1209.6" y2="672" stroke="#666" stroke-width="2"/><text x="1094.1" y="563.8" font-size="15.5" font-family='"Liberation Sans", sans-serif' text-anchor="middle" fill="#000">0</text><text x="1094.1" y="588.5" font-size="15.5" font-family='"Liberation Sans", sans-serif' text-anchor="middle" fill="#000">1</text><text x="1094.1" y="613.4" font-size="15.5" font-family='"Liberation Sans", sans-serif' text-anchor="middle" fill="#000">2</text><text x="1094.1" y="638.8" font-size="15.5" font-family='"Liberation Sans", sans-serif' text-anchor="middle" fill="#000">…</text><text x="1094.1" y="663.8" font-size="15.5" font-family='"Liberation Sans", sans-serif' text-anchor="middle" fill="#000">N</text>
<text x="1075.3" y="707.4" font-size="28.2" font-family='"Liberation Serif", serif' fill="#000" stroke="#000" stroke-width="0.3">Codebook</text>
<text x="1200.5" y="707.4" font-size="29" font-family='"Liberation Serif", serif' font-style="italic" font-weight="bold" fill="#000" stroke="#000" stroke-width="0.3">C</text>
<line x1="1253.1" y1="633.0" x2="1277.0" y2="633.0" stroke="#000" stroke-width="3"/><polygon points="1290.0,633.0 1275.0,640.7 1275.0,625.3" fill="#000"/>
<polygon points="1300,585.8 1333.7,552.4 1433.7,552.4 1400,585.8" fill="#eceef3" stroke="#6e6e6e" stroke-width="2.2" stroke-linejoin="round"/><polygon points="1400,585.8 1433.7,552.4 1433.7,652.4 1400,685.8" fill="url(#sideG)" stroke="#6e6e6e" stroke-width="2.2" stroke-linejoin="round"/><rect x="1300.0" y="585.8" width="25.0" height="26.3" fill="#c5e0b4"/><rect x="1325.0" y="585.8" width="25.0" height="26.3" fill="#a9c1e9"/><rect x="1350.0" y="585.8" width="25.0" height="26.3" fill="#f29bab"/><rect x="1375.0" y="585.8" width="25.0" height="26.3" fill="#fbe5d6"/><rect x="1300.0" y="612.1" width="25.0" height="24.0" fill="#aff0e6"/><rect x="1325.0" y="612.1" width="25.0" height="24.0" fill="#fde5f1"/><rect x="1350.0" y="612.1" width="25.0" height="24.0" fill="#d5e1f6"/><rect x="1375.0" y="612.1" width="25.0" height="24.0" fill="#b4efd0"/><rect x="1300.0" y="636.1" width="25.0" height="24.0" fill="#ffe38e"/><rect x="1325.0" y="636.1" width="25.0" height="24.0" fill="#7e9edb"/><rect x="1350.0" y="636.1" width="25.0" height="24.0" fill="#d3d3d3"/><rect x="1375.0" y="636.1" width="25.0" height="24.0" fill="#f0c1f1"/><rect x="1300.0" y="660.1" width="25.0" height="25.7" fill="#f8cbad"/><rect x="1325.0" y="660.1" width="25.0" height="25.7" fill="#a9e8a8"/><rect x="1350.0" y="660.1" width="25.0" height="25.7" fill="#fbe5d6"/><rect x="1375.0" y="660.1" width="25.0" height="25.7" fill="#e1ccfb"/><line x1="1325.0" y1="585.8" x2="1325.0" y2="685.8" stroke="#808080" stroke-width="1.5"/><line x1="1300" y1="612.1" x2="1400" y2="612.1" stroke="#808080" stroke-width="1.5"/><line x1="1350.0" y1="585.8" x2="1350.0" y2="685.8" stroke="#808080" stroke-width="1.5"/><line x1="1300" y1="636.1" x2="1400" y2="636.1" stroke="#808080" stroke-width="1.5"/><line x1="1375.0" y1="585.8" x2="1375.0" y2="685.8" stroke="#808080" stroke-width="1.5"/><line x1="1300" y1="660.1" x2="1400" y2="660.1" stroke="#808080" stroke-width="1.5"/><rect x="1300" y="585.8" width="100" height="100" fill="none" stroke="#6e6e6e" stroke-width="2.2"/>
<text x="1339.5" y="733" font-size="34" font-family='"Liberation Serif", serif' font-style="italic" fill="#000" stroke="#000" stroke-width="0.55">Ẑ</text>
<text x="1360" y="739.9" font-size="28" font-family='"Liberation Serif", serif' font-style="italic" fill="#000" stroke="#000" stroke-width="0.55">c</text>
<line x1="1443.6" y1="628.5" x2="1467.6" y2="628.5" stroke="#000" stroke-width="3"/><polygon points="1480.6,628.5 1465.6,636.2 1465.6,620.8" fill="#000"/>
<rect x="1524.3" y="416.5" width="111.2" height="68" fill="#fdefe8" stroke="#2f4f96" stroke-width="1.9" stroke-dasharray="5 3"/>
<text x="1577.8" y="462.7" font-size="28.8" font-family='"Liberation Serif", serif' font-weight="bold" text-anchor="middle" fill="#000" stroke="#000" stroke-width="0.3">CFT</text>
<text x="1476" y="430.8" font-size="29.5" font-family='"Liberation Serif", serif' font-style="italic" fill="#2f5597" stroke="#2f5597" stroke-width="0.55">F</text>
<text x="1490" y="436.8" font-size="22.5" font-family='"Liberation Serif", serif' font-style="italic" fill="#2f5597" stroke="#2f5597" stroke-width="0.55">e</text>
<text x="1652.3" y="436.4" font-size="30" font-family='"Liberation Serif", serif' font-style="italic" fill="#119c4f" stroke="#119c4f" stroke-width="0.9">w</text>
<line x1="1673.9" y1="451.3" x2="1650" y2="451.3" stroke="#119c4f" stroke-width="2.4"/>
<polygon points="1637.7,451.3 1652.6,444.0 1652.6,458.6" fill="#119c4f"/>
<line x1="1568.5" y1="549" x2="1568.5" y2="496" stroke="#c00000" stroke-width="2.5"/>
<polygon points="1568.5,485.2 1575.9,498.5 1561.1,498.5" fill="#c00000"/>
<line x1="1589" y1="487.6" x2="1589" y2="532" stroke="#000" stroke-width="2.7"/>
<polygon points="1589.0,544.3 1581.5,530.3 1596.5,530.3" fill="#000"/>
<text x="1528" y="523" font-size="30" font-family='"Liberation Serif", serif' font-style="italic" fill="#c00000" stroke="#c00000" stroke-width="0.55">F</text>
<text x="1543.6" y="528.4" font-size="23.4" font-family='"Liberation Serif", serif' font-style="italic" fill="#c00000" stroke="#c00000" stroke-width="0.55">d</text>
<text x="1599.5" y="523" font-size="29" font-family='"Liberation Serif", serif' font-style="italic" fill="#000" stroke="#000" stroke-width="0.55">F̂</text>
<text x="1615.6" y="529" font-size="23.4" font-family='"Liberation Serif", serif' font-style="italic" fill="#000" stroke="#000" stroke-width="0.55">d</text>
<polygon points="1488,569.5 1709,516 1709,747 1488,692" fill="#eef1fb" stroke="#c00000" stroke-width="3.6"/>
<text x="1505" y="647" font-size="39" font-family='"Liberation Serif", serif' font-style="italic" font-weight="bold" fill="#000" stroke="#000" stroke-width="0.3">D</text>
<text x="1534" y="653.5" font-size="28" font-family='"Liberation Serif", serif' font-style="italic" font-weight="bold" fill="#000" stroke="#000" stroke-width="0.3">H</text>
<text x="1598" y="623.5" font-size="33.7" font-family='"Liberation Serif", serif' fill="#000" stroke="#000" stroke-width="0.3">HQ</text>
<text x="1569.5" y="662" font-size="33.7" font-family='"Liberation Serif", serif' fill="#000" stroke="#000" stroke-width="0.3">Decoder</text>
<use href="#face4" x="1733" y="514"/>
<text x="1828.5" y="788.6" font-size="38" font-family='"Liberation Serif", serif' font-style="italic" fill="#000" stroke="#000" stroke-width="0.55">I</text>
<text x="1841" y="796.9" font-size="28.5" font-family='"Liberation Serif", serif' font-style="italic" fill="#000" letter-spacing="1.4" stroke="#000" stroke-width="0.55">res</text>
<text x="794.5" y="779.5" font-size="31.3" font-family='"Liberation Serif", serif' fill="#000" stroke="#000" stroke-width="0.3">Code Prediction</text>
<rect x="2111.2" y="54.9" width="45" height="30.7" fill="#fff" stroke="#c00000" stroke-width="2.9"/>
<text x="2175" y="79.8" font-size="31.3" font-family='"Liberation Serif", serif' fill="#000" stroke="#000" stroke-width="0.3">Fixed modules</text>
<circle cx="2134.1" cy="131.1" r="15.6" fill="#fff" stroke="#000" stroke-width="2.3"/><circle cx="2134.1" cy="131.1" r="3.1" fill="#111"/>
<text x="2175.6" y="144.1" font-size="31.3" font-family='"Liberation Serif", serif' fill="#000" stroke="#000" stroke-width="0.3">Multiplication</text>
<circle cx="2136.1" cy="188.9" r="15.6" fill="#fff" stroke="#000" stroke-width="2.3"/><path d="M2120.5 188.9H2151.7M2136.1 173.3V204.5" stroke="#222" stroke-width="2.4"/>
<text x="2177.6" y="201.6" font-size="31.3" font-family='"Liberation Serif", serif' fill="#000" stroke="#000" stroke-width="0.3">Addition</text>
<rect x="2097.4" y="243.4" width="287.9" height="329.8" fill="#fdefe8" stroke="#2f4f96" stroke-width="1.7" stroke-dasharray="4.2 2.6"/>
<path d="M2122.2 624.3V329H2150M2122 406.7H2226M2122 530H2290" fill="none" stroke="#c00000" stroke-width="2.5"/>
<polygon points="2161.4,329.0 2147.9,336.2 2147.9,321.8" fill="#c00000"/>
<polygon points="2237.7,406.7 2223.3,413.9 2223.3,399.5" fill="#c00000"/>
<polygon points="2301.7,530.0 2287.3,537.2 2287.3,522.8" fill="#c00000"/>
<path d="M2047.8 298.2H2150" fill="none" stroke="#2e74b5" stroke-width="2.1" stroke-dasharray="6.5 3.2"/>
<polygon points="2161.4,298.2 2148.6,305.4 2148.6,291.0" fill="#2e74b5"/>
<text x="2047.5" y="282.5" font-size="36" font-family='"Liberation Serif", serif' font-style="italic" fill="#2f5597" stroke="#2f5597" stroke-width="0.55">F</text>
<text x="2063.5" y="289.3" font-size="29" font-family='"Liberation Serif", serif' font-style="italic" fill="#2f5597" stroke="#2f5597" stroke-width="0.55">e</text>
<rect x="2162.5" y="280" width="28.5" height="68.4" fill="#d2dff2" stroke="#6e6e6e" stroke-width="2.2"/>
<rect x="2245.3" y="262.7" width="17.4" height="44.4" fill="#d2dff2" stroke="#6e6e6e" stroke-width="2.2"/>
<rect x="2245.3" y="317.6" width="17.4" height="43.5" fill="#d2dff2" stroke="#6e6e6e" stroke-width="2.2"/>
<path d="M2192 313.9H2213.7M2213.7 283.4V340.7M2212.5 284.6H2232M2212.5 339.5H2232M2263.8 284.6H2317.9V380M2253.9 362.2V380M2269.8 406.7H2290M2317.9 422V441M2317.9 485.4V503M2317.9 545.5V622" fill="none" stroke="#000" stroke-width="2.4"/>
<polygon points="2244.2,284.6 2229.9,292.1 2229.9,277.1" fill="#000"/>
<polygon points="2244.2,339.5 2229.9,347.0 2229.9,332.0" fill="#000"/>
<polygon points="2317.9,390.8 2310.5,377.0 2325.3,377.0" fill="#000"/>
<polygon points="2253.9,390.8 2246.5,377.0 2261.3,377.0" fill="#000"/>
<polygon points="2301.7,406.7 2287.3,414.1 2287.3,399.3" fill="#000"/>
<polygon points="2317.9,453.0 2310.5,439.1 2325.3,439.1" fill="#000"/>
<polygon points="2317.9,514.1 2310.5,500.0 2325.3,500.0" fill="#000"/>
<polygon points="2317.7,633.6 2310.3,618.8 2325.1,618.8" fill="#000"/>
<text x="2271" y="310.7" font-size="30" font-family='"Liberation Serif", serif' font-style="italic" fill="#000" stroke="#000" stroke-width="0.55">β</text>
<text x="2272.5" y="350.7" font-size="31" font-family='"Liberation Serif", serif' font-style="italic" fill="#000" stroke="#000" stroke-width="0.55">α</text>
<circle cx="2253.9" cy="406.7" r="15" fill="#fff" stroke="#000" stroke-width="2.3"/><circle cx="2253.9" cy="406.7" r="3.1" fill="#111"/>
<circle cx="2317.9" cy="406.7" r="15" fill="#fff" stroke="#000" stroke-width="2.3"/><path d="M2303 406.7H2332.8M2317.9 391.7V421.7" stroke="#222" stroke-width="2.4"/>
<rect x="2287.8" y="454.2" width="58.4" height="30" fill="#fff" stroke="#6a6a6a" stroke-width="2.4"/>
<text x="2296" y="479" font-size="25" font-family='"Liberation Sans", sans-serif' fill="#000">×</text>
<text x="2317" y="476.5" font-size="28" font-family='"Liberation Serif", serif' font-style="italic" font-weight="bold" fill="#000" stroke="#000" stroke-width="0.3">w</text>
<circle cx="2317.9" cy="530" r="15" fill="#fff" stroke="#000" stroke-width="2.3"/><path d="M2303 530H2332.8M2317.9 515V545" stroke="#222" stroke-width="2.4"/>
<line x1="2419.8" y1="469.2" x2="2360" y2="469.2" stroke="#119c4f" stroke-width="2.2"/>
<polygon points="2347.4,469.2 2361.8,461.8 2361.8,476.6" fill="#119c4f"/>
<text x="2398" y="455.6" font-size="34" font-family='"Liberation Serif", serif' font-style="italic" fill="#119c4f" stroke="#119c4f" stroke-width="0.9">w</text>
<text x="2137.5" y="620" font-size="37.5" font-family='"Liberation Serif", serif' font-style="italic" fill="#c00000" stroke="#c00000" stroke-width="0.55">F</text>
<text x="2157" y="626.8" font-size="29" font-family='"Liberation Serif", serif' font-style="italic" fill="#c00000" stroke="#c00000" stroke-width="0.55">d</text>
<text x="2335.5" y="621.9" font-size="36" font-family='"Liberation Serif", serif' font-style="italic" fill="#000" stroke="#000" stroke-width="0.55">F̂</text>
<text x="2354.3" y="629.9" font-size="29" font-family='"Liberation Serif", serif' font-style="italic" fill="#000" stroke="#000" stroke-width="0.55">d</text>
<text x="2106.5" y="698.9" font-size="31.4" font-family='"Liberation Serif", serif' fill="#000" stroke="#000" stroke-width="0.3">Controllable Feature</text>
<text x="2106.8" y="735.9" font-size="31" font-family='"Liberation Serif", serif' stroke="#000" stroke-width="0.3">Transformation (<tspan font-weight="bold" letter-spacing="-2">CFT</tspan><tspan dx="1.2">)</tspan></text>
<text x="2110.4" y="778.0" font-size="24.6" font-family='"Liberation Sans","Noto Sans CJK SC",sans-serif' fill="#4d4d4d" opacity="0.85">掘金技术社区<tspan font-size="23.6" letter-spacing="0.87"> @ ZackSock</tspan></text>
<text x="2109.4" y="777.0" font-size="24.6" font-family='"Liberation Sans","Noto Sans CJK SC",sans-serif' fill="#e6e6e6">掘金技术社区<tspan font-size="23.6" letter-spacing="0.87"> @ ZackSock</tspan></text>
</svg></body></html>
